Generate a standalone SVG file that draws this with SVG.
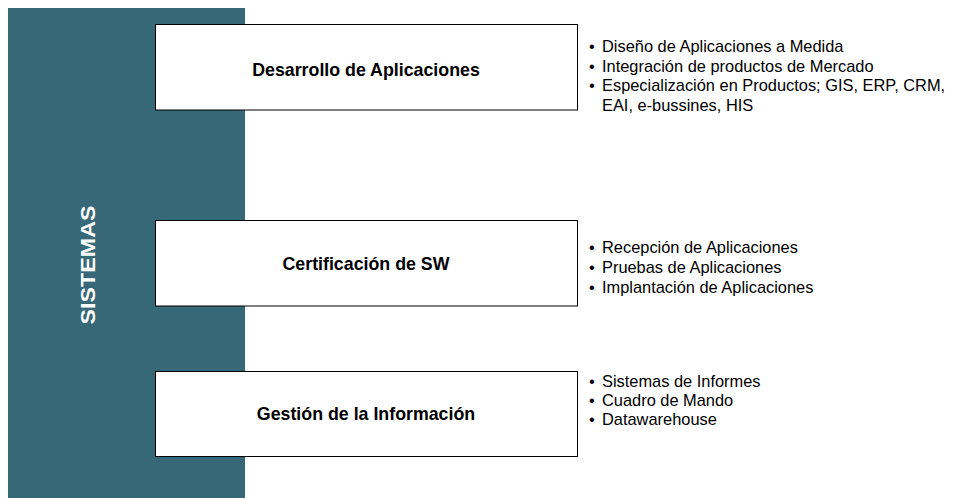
<svg xmlns="http://www.w3.org/2000/svg" width="954" height="498" viewBox="0 0 954 498">
<style>
.bar{fill:#376878}
.box{fill:#fff;stroke:#000;stroke-width:1}
.title{font-family:"Liberation Sans",Arial,sans-serif;font-weight:bold;font-size:17.8px;fill:#000;text-anchor:middle}
.side{font-family:"Liberation Sans",Arial,sans-serif;font-weight:bold;font-size:21px;fill:#fff;text-anchor:middle}
.b{font-family:"Liberation Sans",Arial,sans-serif;font-size:16.4px;fill:#000}
</style>
<rect width="954" height="498" fill="#fff"/>
<g id="sistemas">
<rect class="bar" x="8" y="8" width="237" height="490"/>
<text class="side" transform="translate(95,265) rotate(-90)" textLength="119" lengthAdjust="spacingAndGlyphs">SISTEMAS</text>
</g>
<g id="connectors"></g>
<g id="desarrollo">
<rect class="box" x="155.5" y="24.5" width="422" height="85.5"/>
<text class="title" x="366" y="76">Desarrollo de Aplicaciones</text>
</g>
<g id="certificacion">
<rect class="box" x="155.5" y="220.5" width="422" height="85.5"/>
<text class="title" x="366" y="269.5">Certificación de SW</text>
</g>
<g id="gestion">
<rect class="box" x="155.5" y="371.5" width="422" height="85"/>
<text class="title" x="366" y="419.5">Gestión de la Información</text>
</g>
<g id="desarrollo-items">
<text class="b" x="589" y="52">•</text>
<text class="b" x="602" y="52">Diseño de Aplicaciones a Medida</text>
<text class="b" x="589" y="71.7">•</text>
<text class="b" x="602" y="71.7">Integración de productos de Mercado</text>
<text class="b" x="589" y="91.4">•</text>
<text class="b" x="602" y="91.4">Especialización en Productos; GIS, ERP, CRM,</text>
<text class="b" x="602" y="111">EAI, e-bussines, HIS</text>
</g>
<g id="certificacion-items">
<text class="b" x="589" y="252.5">•</text>
<text class="b" x="602" y="252.5">Recepción de Aplicaciones</text>
<text class="b" x="589" y="272.7">•</text>
<text class="b" x="602" y="272.7">Pruebas de Aplicaciones</text>
<text class="b" x="589" y="293">•</text>
<text class="b" x="602" y="293">Implantación de Aplicaciones</text>
</g>
<g id="gestion-items">
<text class="b" x="589" y="387">•</text>
<text class="b" x="602" y="387">Sistemas de Informes</text>
<text class="b" x="589" y="406">•</text>
<text class="b" x="602" y="406">Cuadro de Mando</text>
<text class="b" x="589" y="425">•</text>
<text class="b" x="602" y="425">Datawarehouse</text>
</g>
</svg>
